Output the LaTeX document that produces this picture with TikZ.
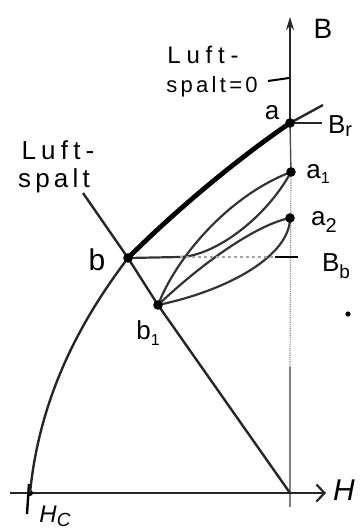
\documentclass[tikz,border=0pt]{standalone}
\usepackage{fontspec}
\setmainfont{Liberation Sans}
\usetikzlibrary{arrows.meta}
\begin{document}
\begin{tikzpicture}[x=1pt,y=-1pt,
  lbl/.style={inner sep=0pt, font=\fontsize{26}{28}\selectfont},
  hand/.style={inner sep=0pt, align=left},
  curveline/.style={line width=2.4pt, black!85},
  thickline/.style={line width=4.8pt, black},
  loopline/.style={line width=2.2pt, black!80},
  axisline/.style={line width=2.2pt, black!85},
  faint/.style={line width=1.2pt, black!45, densely dotted},
  dotmark/.style={fill=black}
]
\useasboundingbox (0,0) rectangle (360,531);
% key points
\coordinate (a) at (290,123);
\coordinate (a1) at (291,172);
\coordinate (a2) at (290,218);
\coordinate (b) at (128,258);
\coordinate (b1) at (158,305);
\coordinate (Hc) at (30,493);
\coordinate (gapTop) at (83,193);
\coordinate (gapEnd) at (290,493);
\coordinate (Btop) at (290,17);
\coordinate (Bbot) at (290,507);
\coordinate (Bmid) at (290,367);
\coordinate (Hleft) at (10,493);
\coordinate (Hright) at (326,493);
\coordinate (BrEnd) at (323,105);
\coordinate (BrDash) at (322,123);
\coordinate (bEnd) at (180,257);
\coordinate (BbL) at (275,257);
\coordinate (BbR) at (298,257);
\coordinate (HcTop) at (29,484);
\coordinate (HcBot) at (27,514);
\coordinate (leadA) at (268,81);
\coordinate (leadB) at (289,78);

% axes
\draw[axisline, -{Stealth[length=13pt,width=8pt]}] (a) -- (Btop);
\draw[line width=1.4pt, black!70] (a) -- (a1);
\draw[faint] (a1) -- (Bmid);
\draw[line width=1.2pt, black!50] (Bmid) -- (Bbot);
\draw[axisline, -{Straight Barb[length=8pt,width=17pt,line width=2.2pt]}] (Hleft) -- (Hright);
\draw[line width=2.4pt] (HcTop) -- (HcBot);
\fill (Hc) circle (3pt);

% main demagnetisation curve
\draw[curveline] (Hc) .. controls (40,392) and (84,316) .. (b);
\draw[thickline] (b) .. controls (178,208) and (240,157) .. (a);
\draw[curveline] (a) -- (BrEnd);
\draw[curveline] (a) -- (BrDash);

% air gap line
\draw[curveline] (gapTop) -- (b) -- (b1) -- (gapEnd);

% recoil loops
\draw[loopline] (b) -- (bEnd) .. controls (215,256) and (266,218) .. (a1);
\draw[loopline] (b1) .. controls (176,258) and (228,196) .. (a1);
\draw[loopline] (b1) .. controls (200,265) and (255,225) .. (a2);
\draw[loopline] (b1) .. controls (230,290) and (290,255) .. (a2);
\draw[line width=1.2pt, black!35, dashed] (bEnd) -- (BbL);
\draw[line width=2.4pt] (BbL) -- (BbR);

% leader for Luftspalt=0
\draw[line width=2pt] (leadA) -- (leadB);

% dots
\foreach \p in {a,a1,a2,b,b1} \fill (\p) circle (4.8pt);
\fill (348,314) circle (2.6pt);

% labels
\node[lbl, font=\fontsize{28}{28}\selectfont] (lB) at (323,29) {B};
\node[hand, font=\fontsize{24}{24}\selectfont\addfontfeature{LetterSpace=24}] (lL0a) at (203,55) {Luft-};
\node[hand, font=\fontsize{22}{22}\selectfont\addfontfeature{LetterSpace=15}] (lL0b) at (212,87) {spalt=0};
\node[lbl] (la) at (272,113) {a};
\node[lbl] (lBr) at (340,126) {B\raisebox{-0.25ex}{\fontsize{20}{20}\selectfont r}};
\node[lbl] (la1) at (318,174) {a\raisebox{-0.3ex}{\fontsize{16}{16}\selectfont 1}};
\node[lbl] (la2) at (324,222) {a\raisebox{-0.5ex}{\fontsize{20}{20}\selectfont 2}};
\node[lbl] (lBb) at (336,266) {B\raisebox{-0.5ex}{\fontsize{19}{19}\selectfont b}};
\node[hand, font=\fontsize{26}{26}\selectfont\addfontfeature{LetterSpace=20}] (lLa) at (58,150) {Luft-};
\node[hand, font=\fontsize{26}{26}\selectfont\addfontfeature{LetterSpace=16}] (lLb) at (54,181) {spalt};
\node[lbl, font=\fontsize{30}{30}\selectfont] (lb) at (97,260) {b};
\node[lbl] (lb1) at (148,333) {b\raisebox{-0.4ex}{\fontsize{16}{16}\selectfont 1}};
\node[lbl, font=\fontsize{24}{24}\selectfont\itshape] (lHc) at (55,516) {H\raisebox{-0.3ex}{\fontsize{19}{19}\selectfont C}};
\node[lbl, font=\fontsize{30}{30}\selectfont\itshape] (lH) at (344,490) {H};
\end{tikzpicture}
\end{document}
